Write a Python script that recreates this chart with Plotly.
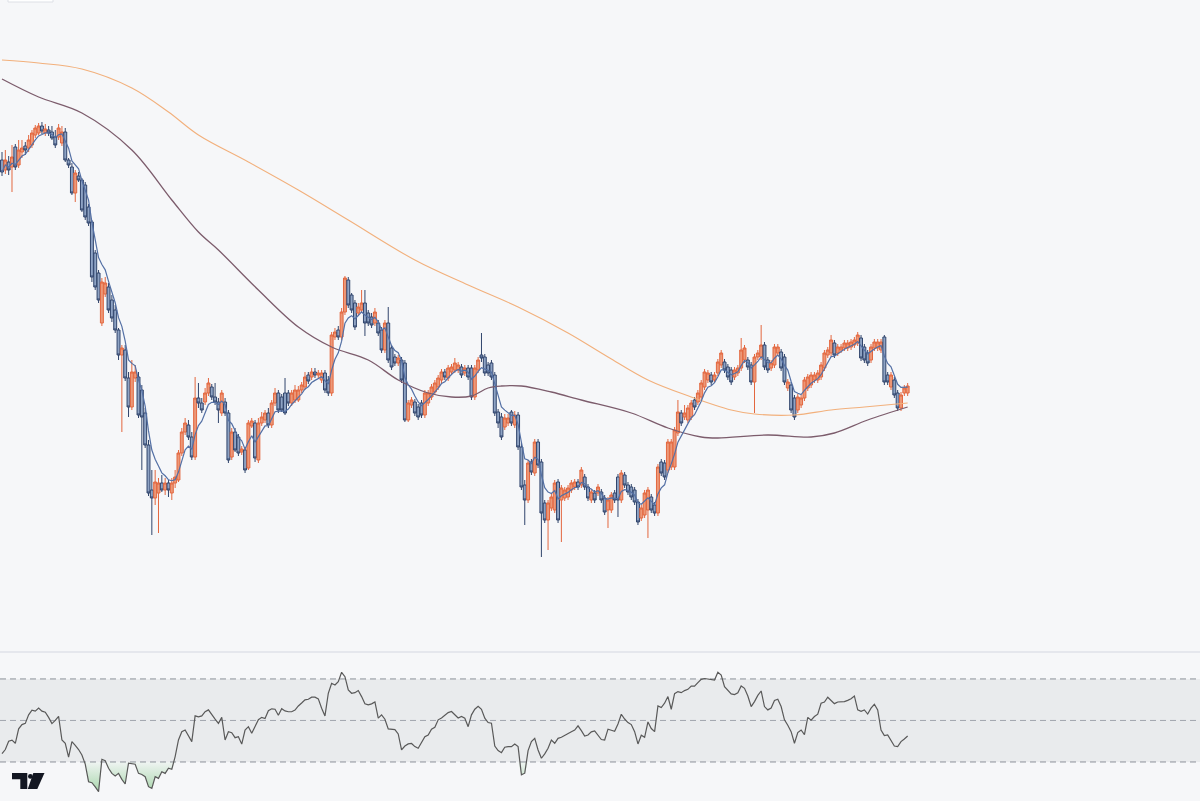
import plotly.graph_objects as go
import pandas as pd

# ---------------- data (price units, one candle per session) ----------------
open_ = [540,530,538,533,553,535,548,554,552,555,
         565,567,574,567,570,568,563,563,557,568,
         540,533,507,524,520,515,493,478,447,427,
         377,406,413,400,390,370,345,350,322,293,
         322,323,310,287,255,210,202,207,217,210,
         217,207,217,220,247,268,275,263,243,302,
         297,298,307,313,303,298,287,298,287,243,
         268,263,248,250,232,274,277,240,277,280,
         287,275,297,307,303,307,307,297,300,300,
         310,313,325,323,328,325,320,327,320,307,
         363,370,363,388,420,405,397,387,390,397,
         387,383,377,377,370,350,377,352,343,337,
         340,337,280,295,298,293,297,285,297,303,
         308,313,320,328,322,328,330,330,333,327,
         332,332,303,330,345,343,335,337,325,288,
         283,273,277,288,275,285,253,215,200,238,
         227,258,238,197,180,192,190,218,200,202,
         203,210,213,218,215,223,213,200,207,207,
         208,202,190,190,207,223,200,225,215,213,
         210,198,182,185,190,203,195,187,238,237,
         230,233,233,267,287,283,280,283,300,298,
         303,313,320,325,320,327,335,338,333,330,
         323,327,332,340,340,335,318,343,343,355,
         340,332,335,347,348,343,312,315,302,290,
         295,302,312,315,320,320,323,332,345,347,
         357,347,350,352,352,353,355,357,362,353,
         347,340,352,352,350,363,325,313,320,307,
         292,307,307]
high = [548,550,544,555,556,560,560,558,565,570,
        575,577,578,576,574,574,570,576,574,572,
        542,537,530,528,522,518,496,480,450,430,
        422,423,417,405,395,372,355,355,328,340,
        335,328,315,292,260,230,230,222,225,222,
        220,222,230,250,272,282,280,268,323,317,
        302,312,322,316,317,302,310,302,290,272,
        272,266,254,253,280,282,280,282,288,290,
        292,300,312,310,306,322,310,310,315,314,
        318,328,328,332,332,330,330,330,324,368,
        372,374,392,424,423,407,400,397,410,410,
        390,387,392,380,373,380,393,355,346,345,
        343,340,300,303,301,296,300,310,310,316,
        320,325,331,331,335,336,342,338,336,335,
        335,335,335,343,367,346,338,340,328,291,
        287,286,286,290,289,288,257,220,240,241,
        261,261,241,200,200,206,220,221,215,213,
        215,220,221,221,233,226,216,211,210,216,
        211,205,203,208,210,226,230,228,218,216,
        213,201,195,210,213,206,198,236,241,240,
        261,261,273,300,290,295,295,300,303,310,
        320,331,330,328,328,341,350,341,336,333,
        333,335,362,355,343,338,346,350,375,358,
        343,340,356,356,351,346,321,318,305,306,
        305,323,326,328,328,330,338,350,353,365,
        360,356,356,360,360,361,363,368,365,356,
        350,356,361,361,361,365,328,328,323,310,
        308,315,317]
low = [524,526,525,508,530,532,542,545,548,552,
       562,565,566,564,564,560,552,560,554,538,
       532,505,498,518,488,480,474,418,410,397,
       374,403,387,378,367,340,268,319,283,290,
       318,282,230,252,204,165,195,167,208,205,
       203,200,212,218,244,265,260,240,240,292,
       287,295,304,300,295,277,284,284,237,240,
       248,244,245,227,230,272,238,237,274,277,
       272,272,294,287,288,285,294,294,297,298,
       307,310,316,320,322,322,317,307,304,304,
       360,360,360,385,392,387,370,384,387,364,
       374,372,374,364,347,347,337,330,334,334,
       317,278,278,292,284,280,282,282,294,300,
       305,310,317,320,319,325,327,327,322,324,
       320,300,300,327,338,324,324,320,284,272,
       260,270,274,274,272,250,210,175,197,225,
       224,232,143,177,150,189,187,177,158,199,
       200,207,210,210,212,210,199,197,197,204,
       197,185,172,187,197,183,197,212,205,200,
       195,175,179,182,162,187,184,184,224,220,
       227,230,230,264,274,280,277,280,290,295,
       300,310,317,315,317,324,332,327,320,315,
       320,324,329,337,330,315,287,340,340,330,
       327,329,332,344,329,315,309,287,280,287,
       292,299,309,312,317,317,320,329,342,344,
       342,344,347,349,349,350,352,354,339,337,
       334,337,349,349,347,315,315,310,302,289,
       289,304,304]
close = [528,540,530,543,533,550,552,550,560,567,
         572,574,569,571,567,562,555,572,568,540,
         535,507,527,520,490,483,477,423,413,400,
         418,417,390,382,370,345,352,322,293,328,
         328,285,283,255,207,202,218,217,210,217,
         210,217,223,247,268,277,263,243,302,297,
         290,307,317,303,298,290,307,287,240,268,
         250,247,251,230,277,279,242,277,283,287,
         275,297,307,290,290,287,297,307,310,310,
         315,323,319,328,325,327,327,310,307,365,
         368,363,388,422,395,390,373,393,397,377,
         377,375,388,367,350,377,340,333,337,342,
         320,280,297,300,287,283,285,307,307,313,
         317,322,328,323,332,333,337,335,325,332,
         323,303,332,340,342,327,327,323,287,277,
         263,282,282,277,285,253,213,200,237,228,
         258,235,187,180,197,203,217,180,212,210,
         212,217,218,213,230,213,202,208,200,213,
         200,188,200,205,200,200,227,215,208,203,
         198,178,192,207,210,190,187,233,227,223,
         258,258,270,288,277,287,292,297,293,307,
         317,328,327,318,325,338,347,330,323,318,
         330,332,350,352,333,318,343,347,355,333,
         330,337,353,353,332,318,318,290,283,303,
         302,320,323,325,325,327,335,347,350,360,
         345,353,353,357,357,358,360,365,342,340,
         337,353,358,358,358,318,318,325,305,292,
         305,312,314]
rsi = [34,36,40,40.5,39,46,48,48.6,52.7,55,
       54.5,56,54.5,54,51.5,48.5,50,52,40.6,39,
       32.3,39.8,38,36,33.4,29,20.5,20,18,15.7,
       31.3,30.6,27,24.5,23.3,24.5,21.6,19.4,29.4,29.1,
       28.9,24.5,24,22.9,18.1,17.3,22.9,22.1,25.3,24.5,
       27,26.5,32.6,40.6,44.6,45.4,42.2,39.8,52.2,51.7,
       52.2,54.2,55.1,52.7,50.6,48.6,51.5,40.6,44.6,44.1,
       41.7,42.2,38.6,45.4,47,43.8,47.3,50.4,51.5,50.9,
       54.7,55.6,55.4,52.5,55.7,54.6,54.2,54.2,55,57,
       58.4,59.9,60.2,61.2,61.2,60.4,55.9,52.2,63.1,67.9,
       67.1,68.7,73.2,71.1,64.7,63.1,63.4,64.4,61.5,58,
       57.5,58,58.9,51.1,52.7,50.6,45.9,45.8,45.6,43.5,
       35.8,37.7,38.7,38.9,37.4,36.6,39.8,42.2,43,45.8,
       46.7,50.3,51.2,52.7,53.8,54.3,52.7,51.2,51.9,51.1,
       47,52.7,55.4,56.8,55.4,51.1,49,48.7,37.7,35.5,
       34.5,37.1,37.4,37.4,38.7,37.4,23.8,24.6,35.5,39.8,
       41.4,35.8,31.8,33.9,36.6,40.6,39,41.4,41.9,42.9,
       43.7,44.6,45.4,47.4,45.1,42.5,43,44.5,45,43,
       40.8,40.6,45.8,45.3,44.8,48.3,53,50.7,49,48,
       44.6,38.7,42.9,41.9,49.3,46.1,44.6,57,56.2,58.3,
       61.5,55.4,62.9,63.9,63.4,64.4,65,66.6,66.5,68.2,
       69.8,70.2,70,69.8,69.5,73.2,71.9,66.3,64.4,62.8,
       62.5,63.3,66.6,65.5,61.8,56.7,59.1,62.1,64.2,56.7,
       55.1,56,59.6,60.2,56.7,50.3,47.7,44.6,39,44.2,
       45.4,43.2,51.5,50.1,51.9,53,58.3,58.9,61.2,59.6,
       58.1,58.9,59.1,59.1,59.7,60.5,61.8,55.1,54.4,55.1,
       53.1,55.9,57.8,55.1,45.4,42.7,43,40.6,37.7,37.4,
       39.8,41.1,42.5]

# long moving averages (they carry history from before the window)
ma_long_idx = [0, 11, 24, 39, 50, 59, 74, 89, 104, 124, 140, 155, 170, 182, 194, 207, 219, 226, 238, 249, 259, 272]
ma_long_val = [640, 637, 631, 612, 588, 565, 538, 510, 480, 440, 415, 393, 367, 343, 320, 303, 290, 286, 285, 290, 293, 297]
ma_mid_idx = [0, 11, 24, 39, 51, 59, 65, 77, 89, 99, 110, 119, 128, 135, 141, 146, 150, 156, 165, 174, 189, 200, 210, 215, 230, 243, 250, 260, 272]
ma_mid_val = [621, 603, 587, 550, 500, 468, 450, 410, 373, 353, 340, 320, 307, 303, 304, 312, 314, 314, 308, 300, 287, 272, 263, 262, 265, 263, 267, 280, 293]

rsi_upper, rsi_mid, rsi_lower = 70, 50, 30

n = len(close)
assert len(open_) == n and len(high) == n and len(low) == n and len(rsi) == n, (len(open_), len(high), len(low), len(close), len(rsi))
idx = list(range(n))

# ---------------- figure ----------------
W, H = 1200, 801
BG = "#f6f7f9"
SEP_PX = 652

def px(x, y):
    return x / W, 1 - y / H

fig = go.Figure()

# long MAs
fig.add_trace(go.Scatter(x=ma_long_idx, y=ma_long_val, mode="lines",
                         line=dict(color="#f2b07c", width=1.1, shape="spline", smoothing=1.0),
                         hoverinfo="skip", xaxis="x", yaxis="y"))
fig.add_trace(go.Scatter(x=ma_mid_idx, y=ma_mid_val, mode="lines",
                         line=dict(color="#7c5c6c", width=1.3, shape="spline", smoothing=1.0),
                         hoverinfo="skip", xaxis="x", yaxis="y"))

# candles
fig.add_trace(go.Candlestick(
    x=idx, open=open_, high=high, low=low, close=close,
    increasing=dict(line=dict(color="#e3673f", width=1), fillcolor="#ec9878"),
    decreasing=dict(line=dict(color="#31456c", width=1), fillcolor="#8ea3c4"),
    whiskerwidth=0, xaxis="x", yaxis="y", hoverinfo="skip"))

# short MA of closes
ema = pd.Series(close, dtype=float).ewm(span=6, adjust=True).mean()
fig.add_trace(go.Scatter(x=idx, y=ema, mode="lines",
                         line=dict(color="#5470a5", width=1.2),
                         hoverinfo="skip", xaxis="x", yaxis="y"))

# RSI oversold fill
fig.add_trace(go.Scatter(x=idx, y=[rsi_lower] * n, mode="lines", line=dict(width=0),
                         hoverinfo="skip", xaxis="x", yaxis="y2"))
fig.add_trace(go.Scatter(x=idx, y=[min(v, rsi_lower) for v in rsi], mode="lines",
                         line=dict(width=0), fill="tonexty",
                         fillgradient=dict(type="vertical",
                                           colorscale=[[0, "rgba(76,175,80,0.45)"], [1, "rgba(76,175,80,0.04)"]]),
                         hoverinfo="skip", xaxis="x", yaxis="y2"))
# RSI line
fig.add_trace(go.Scatter(x=idx, y=rsi, mode="lines",
                         line=dict(color="#595959", width=1.2),
                         hoverinfo="skip", xaxis="x", yaxis="y2"))

shapes = []
# RSI band
shapes.append(dict(type="rect", xref="paper", yref="y2", x0=0, x1=1, y0=rsi_lower, y1=rsi_upper,
                   fillcolor="rgba(140,145,160,0.12)", line=dict(width=0), layer="below"))
for lvl, col in [(rsi_upper, "#8c9099"), (rsi_mid, "#a3a6ae"), (rsi_lower, "#8c9099")]:
    shapes.append(dict(type="line", xref="paper", yref="y2", x0=0, x1=1, y0=lvl, y1=lvl,
                       line=dict(color=col, width=1, dash="6px,4px"), layer="below"))
# pane separator
sx0, sy = px(0, SEP_PX)
shapes.append(dict(type="line", xref="paper", yref="paper", x0=0, x1=1, y0=sy, y1=sy,
                   line=dict(color="#dfe2e8", width=1.5)))
# top-left button box
bx0, by0 = px(8, 2)
bx1, by1 = px(53, -6)
shapes.append(dict(type="rect", xref="paper", yref="paper", x0=bx0, x1=bx1, y0=by0, y1=by1,
                   fillcolor="#ffffff", line=dict(color="#dde0e6", width=1)))

# logo
def path(points):
    s = ""
    for k, (x, y) in enumerate(points):
        a, b = px(x, y)
        s += ("M" if k == 0 else "L") + f"{a:.5f},{b:.5f} "
    return s + "Z"

t_pts = [(12, 773), (27.3, 773), (27.3, 789), (20.3, 789), (20.3, 779.3), (12, 779.3)]
s_pts = [(33.3, 773), (44.5, 773), (37.3, 789), (27.8, 789)]
shapes.append(dict(type="path", xref="paper", yref="paper", path=path(t_pts),
                   fillcolor="#131722", line=dict(width=0)))
shapes.append(dict(type="path", xref="paper", yref="paper", path=path(s_pts),
                   fillcolor="#131722", line=dict(width=0)))
cx0, cy0 = px(28.0, 774.0)
cx1, cy1 = px(32.8, 778.8)
shapes.append(dict(type="circle", xref="paper", yref="paper", x0=cx0, x1=cx1, y0=cy1, y1=cy0,
                   fillcolor="#131722", line=dict(width=0)))

main_bottom = 1 - SEP_PX / H
rsi_top = 1 - (SEP_PX + 1) / H

fig.update_layout(
    width=W, height=H,
    margin=dict(l=0, r=0, t=0, b=0, pad=0),
    paper_bgcolor=BG, plot_bgcolor=BG,
    showlegend=False,
    boxgap=0.12, boxgroupgap=0,
    shapes=shapes,
    xaxis=dict(range=[-0.6, 359.8], domain=[0, 1], anchor="y2",
               showgrid=False, zeroline=False, showticklabels=False, showline=False,
               ticks="", rangeslider=dict(visible=False)),
    yaxis=dict(range=[48, 700], domain=[main_bottom, 1], anchor="x",
               showgrid=False, zeroline=False, showticklabels=False, showline=False, ticks=""),
    yaxis2=dict(range=[11.2, 82.5], domain=[0, rsi_top], anchor="x",
                showgrid=False, zeroline=False, showticklabels=False, showline=False, ticks=""),
)

fig.write_html("out.html")
